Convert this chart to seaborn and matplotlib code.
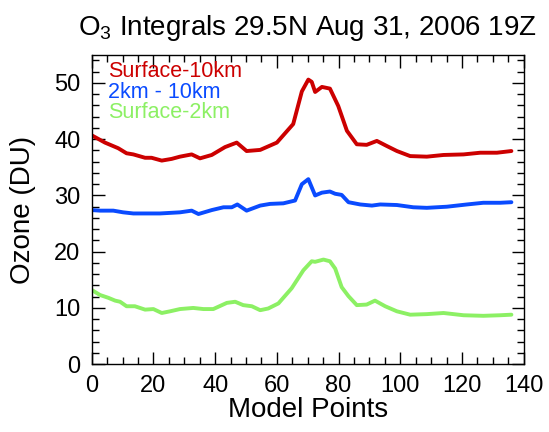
import matplotlib
matplotlib.use("Agg")
import matplotlib.pyplot as plt
import seaborn as sns
import pandas as pd
from matplotlib.ticker import MultipleLocator

# ---- data ----
red_x = [0, 4.3, 8.6, 11.3, 13.5, 17.3, 19.4, 22.7, 25.9, 28.6, 32.4, 35.1, 38.9, 43.2, 47.0,
         50.2, 54.6, 60.0, 65.3, 68.1, 70.2, 71.3, 72.4, 74.6, 77.2, 79.9, 82.7, 85.9, 89.1,
         92.4, 95.6, 98.9, 103.2, 108.6, 114.0, 120.5, 125.9, 131.3, 136.0]
red_y = [40.7, 39.4, 38.4, 37.5, 37.3, 36.7, 36.7, 36.2, 36.5, 36.9, 37.3, 36.6, 37.2, 38.6, 39.4,
         37.9, 38.1, 39.4, 42.7, 48.5, 50.6, 50.2, 48.4, 49.3, 49.0, 45.9, 41.5, 39.1, 39.0,
         39.7, 38.8, 37.9, 37.0, 36.9, 37.2, 37.3, 37.6, 37.6, 37.9]

blue_x = [0, 2.7, 7.0, 10.2, 13.5, 22.1, 28.6, 32.4, 34.6, 38.9, 42.7, 45.4, 47.2, 50.2, 54.6,
          57.8, 62.1, 65.9, 68.1, 70.2, 72.4, 74.6, 77.2, 78.9, 81.0, 83.2, 87.0, 90.8, 93.5,
          98.9, 104.2, 108.6, 115.1, 121.6, 126.9, 132.4, 136.0]
blue_y = [27.4, 27.3, 27.3, 27.0, 26.8, 26.8, 27.0, 27.3, 26.7, 27.4, 27.9, 27.9, 28.4, 27.3, 28.2,
          28.5, 28.6, 29.1, 32.0, 32.9, 30.0, 30.5, 30.7, 30.3, 30.1, 28.8, 28.4, 28.2, 28.4,
          28.3, 27.9, 27.8, 28.0, 28.4, 28.7, 28.7, 28.8]

green_x = [0, 2.7, 5.4, 7.6, 9.2, 11.3, 14.0, 17.3, 20.0, 22.7, 25.4, 28.6, 32.9, 36.2, 39.4,
           43.8, 46.5, 49.1, 51.9, 54.6, 57.2, 60.5, 64.8, 68.6, 71.3, 72.4, 75.1, 77.2, 78.9,
           81.0, 83.2, 85.9, 89.1, 91.8, 95.1, 98.9, 103.2, 108.6, 114.0, 120.5, 126.9, 132.4, 136.0]
green_y = [13.2, 12.3, 11.8, 11.3, 11.1, 10.3, 10.3, 9.7, 9.8, 9.1, 9.4, 9.8, 10.0, 9.8, 9.8,
           10.9, 11.1, 10.5, 10.3, 9.6, 9.9, 10.8, 13.5, 16.7, 18.3, 18.2, 18.6, 18.3, 17.0,
           13.7, 12.1, 10.5, 10.6, 11.3, 10.3, 9.4, 8.8, 8.9, 9.1, 8.7, 8.6, 8.7, 8.8]

series_names = ["Surface-10km", "2km - 10km", "Surface-2km"]
series_colors = ["#CC0000", "#0A4BFF", "#8CF064"]

title = r"O$_\mathregular{3}$ Integrals 29.5N Aug 31, 2006 19Z"
xlabel = "Model Points"
ylabel = "Ozone (DU)"

# ---- build table ----
frames = []
for name, xs, ys in zip(series_names, [red_x, blue_x, green_x], [red_y, blue_y, green_y]):
    frames.append(pd.DataFrame({"x": xs, "y": ys, "series": name}))
df = pd.concat(frames, ignore_index=True)

sns.set_style("ticks")
plt.rcParams["font.family"] = ["Liberation Sans", "DejaVu Sans"]
plt.rcParams["mathtext.fontset"] = "custom"
plt.rcParams["mathtext.rm"] = "Liberation Sans"
plt.rcParams["mathtext.it"] = "Liberation Sans:italic"
plt.rcParams["mathtext.bf"] = "Liberation Sans:bold"
for k in ["text.color", "axes.labelcolor", "xtick.color", "ytick.color", "axes.edgecolor"]:
    plt.rcParams[k] = "black"

fig = plt.figure(figsize=(5.49, 4.32), dpi=100)
ax = fig.add_axes([0.167, 0.157, 0.787, 0.716])

sns.lineplot(data=df, x="x", y="y", hue="series", hue_order=series_names,
             palette=series_colors, linewidth=2.8, ax=ax, legend=False, sort=False)

ax.set_xlim(0, 140)
ax.set_ylim(0, 55)
ax.xaxis.set_major_locator(MultipleLocator(20))
ax.xaxis.set_minor_locator(MultipleLocator(5))
ax.yaxis.set_major_locator(MultipleLocator(10))
ax.yaxis.set_minor_locator(MultipleLocator(2))
ax.tick_params(which="both", direction="in", top=True, right=True, colors="black",
               labelcolor="black", labelsize=17, width=1.0)
ax.tick_params(which="major", length=9, pad=8)
ax.tick_params(which="minor", length=5)
for s in ax.spines.values():
    s.set_visible(True)
    s.set_color("black")
    s.set_linewidth(1.0)

ax.set_xlabel(xlabel, fontsize=20, labelpad=0, color="black")
ax.set_ylabel(ylabel, fontsize=20, labelpad=13, color="black")
ax.set_title(title, fontsize=20, pad=14, color="black")

for i, (name, col) in enumerate(zip(series_names, series_colors)):
    ax.text(0.038, 0.945 - i * 0.066, name, color=col, fontsize=15.5,
            transform=ax.transAxes, va="center", ha="left")

fig.savefig("out.png", dpi=100)
